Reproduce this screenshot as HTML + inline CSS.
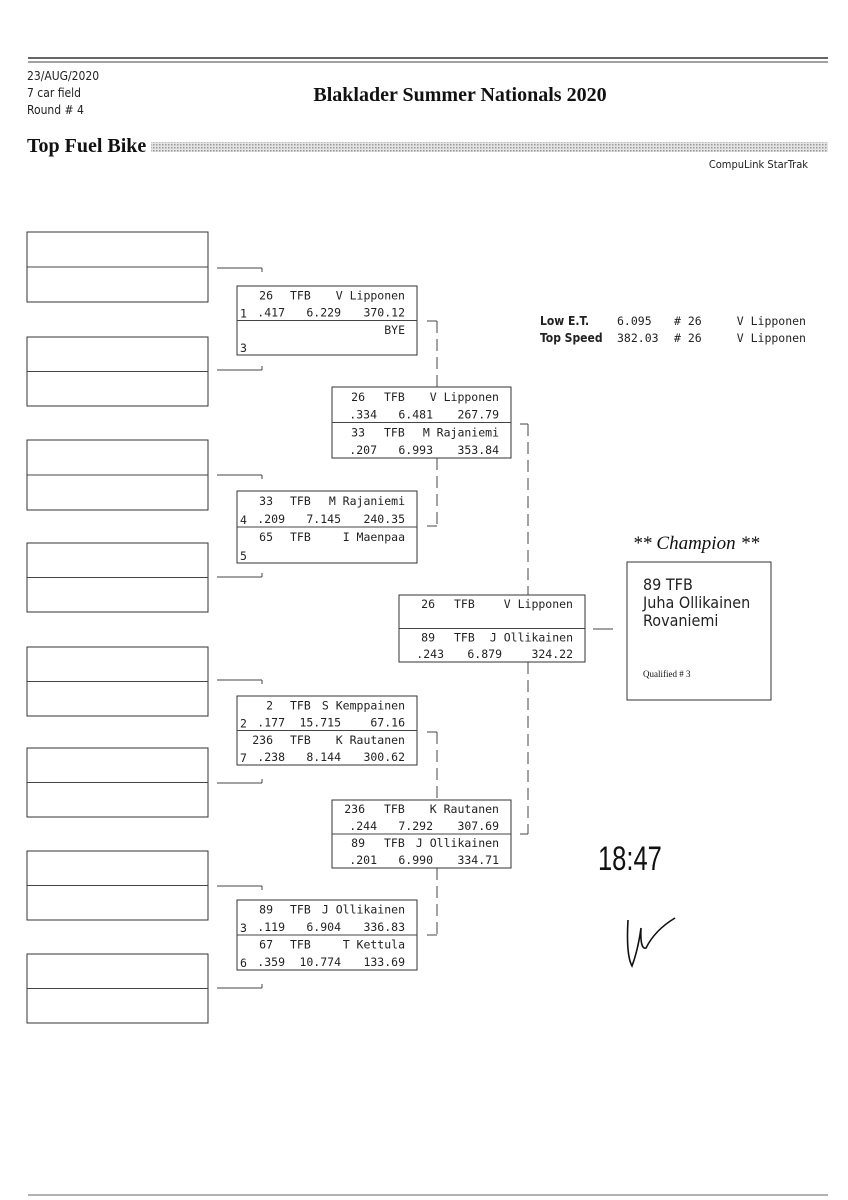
<!DOCTYPE html>
<html><head><meta charset="utf-8"><style>
html,body{margin:0;padding:0;background:#fff;}
svg{display:block}
.m{font-family:"DejaVu Sans Mono","Liberation Mono",monospace;font-size:11.5px;fill:#222}
.s{font-family:"DejaVu Sans Condensed","Liberation Sans",sans-serif;fill:#222}
.r{font-family:"Liberation Serif",serif;fill:#111}
</style></head><body>
<svg id="g" width="848" height="1200" xmlns="http://www.w3.org/2000/svg">
<defs><pattern id="dots" width="3" height="3" patternUnits="userSpaceOnUse"><rect width="3" height="3" fill="#e4e4e4"/><rect width="1.5" height="1.5" fill="#999"/></pattern></defs>
<line x1="28" y1="58" x2="828" y2="58" stroke="#333" stroke-width="1.5"/>
<line x1="28" y1="62" x2="828" y2="62" stroke="#444" stroke-width="1"/>
<line x1="28" y1="1195" x2="828" y2="1195" stroke="#666" stroke-width="1"/>
<text class="s" x="27" y="80" font-size="12">23/AUG/2020</text>
<text class="s" x="27" y="97" font-size="12">7 car field</text>
<text class="s" x="27" y="114" font-size="12">Round # 4</text>
<text class="r" x="460" y="101" font-size="20" font-weight="bold" text-anchor="middle">Blaklader Summer Nationals 2020</text>
<text class="r" x="27" y="152" font-size="20" font-weight="bold">Top Fuel Bike</text>
<rect x="151" y="142" width="677" height="10" fill="url(#dots)"/>
<text class="s" x="808" y="168" font-size="11" text-anchor="end">CompuLink StarTrak</text>
<text class="s" x="540" y="325" font-size="12" font-weight="bold">Low  E.T.</text>
<text class="s" x="540" y="342" font-size="12" font-weight="bold">Top Speed</text>
<text class="m" x="617" y="325">6.095</text><text class="m" x="617" y="342">382.03</text>
<text class="m" x="674" y="325"># 26</text><text class="m" x="674" y="342"># 26</text>
<text class="m" x="806" y="325" text-anchor="end">V Lipponen</text><text class="m" x="806" y="342" text-anchor="end">V Lipponen</text>
<text class="r" x="696" y="549" font-size="19" font-style="italic" text-anchor="middle">** Champion **</text>
<rect x="627" y="562" width="144" height="138" fill="none" stroke="#333"/>
<text class="s" x="643" y="590" font-size="16">89   TFB</text>
<text class="s" x="643" y="608" font-size="16">Juha Ollikainen</text>
<text class="s" x="643" y="626" font-size="16">Rovaniemi</text>
<text class="r" x="643" y="677" font-size="9">Qualified # 3</text>
<line x1="593" y1="629" x2="613" y2="629" stroke="#444"/>
<text x="0" y="0" font-family="Liberation Sans Narrow,Liberation Sans,sans-serif" font-size="34" fill="#111" transform="translate(598,870) scale(0.75,1)">18:47</text>
<path d="M628 920 Q626 955 632 966 Q638 950 641 928 Q640 950 646 948 Q655 930 675 918" fill="none" stroke="#111" stroke-width="1.6"/>
</svg>
<script>
var g=document.getElementById('g'),NS='http://www.w3.org/2000/svg';
function el(t,a,txt){var e=document.createElementNS(NS,t);for(var k in a)e.setAttribute(k,a[k]);if(txt!=null)e.textContent=txt;g.appendChild(e);return e;}
function ln(x1,y1,x2,y2,d){el('line',{x1:x1,y1:y1,x2:x2,y2:y2,stroke:'#444','stroke-width':1,'stroke-dasharray':d||''});}
[[232,302],[337,406],[440,510],[543,612],[647,716],[748,817],[851,920],[954,1023]].forEach(function(b,i){
 el('rect',{x:27,y:b[0],width:181,height:b[1]-b[0],fill:'none',stroke:'#333'});
 var m=(b[0]+b[1])/2;ln(27,m,208,m);
});
[[268,1],[370,-1],[475,1],[577,-1],[680,1],[783,-1],[886,1],[988,-1]].forEach(function(c){
 ln(217,c[0],262,c[0]);ln(262,c[0],262,c[0]+4*c[1]);
});
function box(x,y,h,w,rows,seeds,off){
 el('rect',{x:x,y:y,width:w,height:h,fill:'none',stroke:'#333'});
 ln(x,y+h/2,x+w,y+h/2);
 var rh=h/4;
 rows.forEach(function(r,i){
  if(!r)return;var by=y+rh*(i+1)-4;
  var xs=(i%2==0)?[x+off[0],x+off[1],x+w-12]:[x+off[3],x+off[4],x+w-12];
  el('text',{'class':'m',x:xs[0],y:by,'text-anchor':'end'},r[0]);
  el('text',{'class':'m',x:xs[1],y:by,'text-anchor':(i%2==0?'start':'end')},r[1]);
  el('text',{'class':'m',x:xs[2],y:by,'text-anchor':'end'},r[2]);
 });
 if(seeds){el('text',{'class':'m',x:x+3,y:y+rh*2-3,'font-size':7},seeds[0]);el('text',{'class':'m',x:x+3,y:y+rh*4-3,'font-size':7},seeds[1]);}
}
var O1=[36,53,0,48,104];
box(237,286,69,180,[['26','TFB','V Lipponen'],['.417','6.229','370.12'],['','','BYE'],null],['1','3'],O1);
box(237,491,72,180,[['33','TFB','M Rajaniemi'],['.209','7.145','240.35'],['65','TFB','I Maenpaa'],null],['4','5'],O1);
box(237,696,69,180,[['2','TFB','S Kemppainen'],['.177','15.715','67.16'],['236','TFB','K Rautanen'],['.238','8.144','300.62']],['2','7'],O1);
box(237,900,70,180,[['89','TFB','J Ollikainen'],['.119','6.904','336.83'],['67','TFB','T Kettula'],['.359','10.774','133.69']],['3','6'],O1);
var O2=[33,52,0,45,101];
box(332,387,71,179,[['26','TFB','V Lipponen'],['.334','6.481','267.79'],['33','TFB','M Rajaniemi'],['.207','6.993','353.84']],null,O2);
box(332,800,68,179,[['236','TFB','K Rautanen'],['.244','7.292','307.69'],['89','TFB','J Ollikainen'],['.201','6.990','334.71']],null,O2);
box(399,595,67,186,[['26','TFB','V Lipponen'],null,['89','TFB','J Ollikainen'],['.243','6.879','324.22']],null,[36,55,0,45,103]);
var D='12,6';
ln(427,321,437,321);ln(437,321,437,387,D);
ln(437,458,437,526,D);ln(427,526,437,526);
ln(520,424,528,424);ln(528,424,528,595,D);
ln(528,662,528,834,D);ln(520,834,528,834);
ln(427,732,437,732);ln(437,732,437,800,D);
ln(437,868,437,935,D);ln(427,935,437,935);
</script>
</body></html>
